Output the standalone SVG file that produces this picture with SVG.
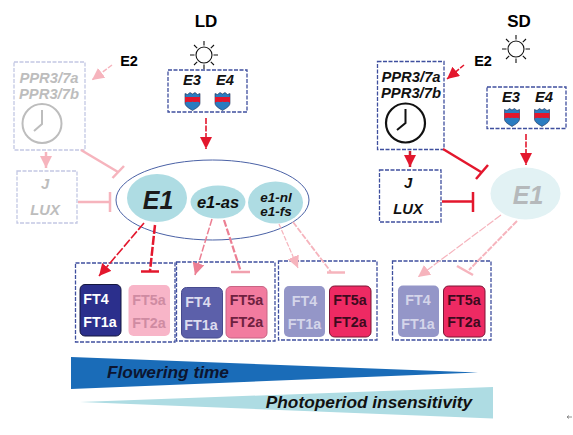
<svg xmlns="http://www.w3.org/2000/svg" width="573" height="435" viewBox="0 0 573 435">
<style>
text{font-family:"Liberation Sans",Arial,sans-serif;text-anchor:middle}
.b{font-weight:bold}
.i{font-style:italic}
.m{font-weight:bold;font-style:italic;font-size:14.800px}
.box{fill:#fff;stroke:#3f4f9e;stroke-width:1.300;stroke-dasharray:4 1.500}
.fade{stroke:#c3c8e4}
.t{font-weight:bold;font-size:14.300px}
.r{stroke:#e3172d;fill:none}
.p{stroke:#f6b4bd;fill:none}
.shield{stroke:#1d2a50;stroke-width:.6}
</style>
<defs>
<marker id="ar" markerUnits="userSpaceOnUse" markerWidth="14" markerHeight="14" refX="12" refY="6" orient="auto"><path d="M0 0L12 6L0 12Z" fill="#e3172d"/></marker>
<marker id="ap" markerUnits="userSpaceOnUse" markerWidth="14" markerHeight="14" refX="12" refY="6" orient="auto"><path d="M0 0L12 6L0 12Z" fill="#f6b4bd"/></marker>
<marker id="am" markerUnits="userSpaceOnUse" markerWidth="14" markerHeight="14" refX="12" refY="6" orient="auto"><path d="M0 0L12 6L0 12Z" fill="#ec7f93"/></marker>
<g id="shield"><path d="M-7.500-7.500l2.500 1L-2.500-8.500 0-7l2.500-1.500L5-6.500l2.500-1V2C7.500 5.500 3 7.500 0 9.500-3 7.500-7.500 5.500-7.500 2Z" fill="#2a7cc0" class="shield"/><path d="M-7.500-4H7.500V1.500C4 -.5 2 2 0 .5-2 2-4 -.5-7.500 1.500Z" fill="#e3172d"/></g>
<g id="sun" fill="none" stroke="#111" stroke-width="1.100"><circle r="8"/><path d="M0-14V-9.500M0 9.500V14M-14 0H-9.500M9.500 0H14M-10-10L-6.800-6.800M10-10L6.800-6.800M-10 10L-6.800 6.800M10 10L6.800 6.800"/></g>
</defs>

<g id="labels">
<text x="206" y="27" font-size="17" class="b">LD</text>
<text x="519" y="27" font-size="17" class="b">SD</text>
<text x="129" y="66" font-size="14.500" class="b">E2</text>
<text x="483" y="66" font-size="14.500" class="b">E2</text>
<use href="#sun" x="204" y="55"/>
<use href="#sun" x="516" y="49"/>
</g>

<g id="ld-ppr">
<rect x="14" y="62" width="71" height="88" class="box fade"/>
<text x="49" y="83" class="m" fill="#bdbdbd">PPR3/7a</text>
<text x="49" y="99" class="m" fill="#bdbdbd">PPR3/7b</text>
<circle cx="42" cy="123.500" r="19.500" fill="none" stroke="#bdbdbd" stroke-width="2"/>
<path d="M42 110V124L34 131" fill="none" stroke="#bdbdbd" stroke-width="2"/>
</g>
<g id="ld-jlux">
<rect x="17" y="171" width="60" height="52" class="box fade"/>
<text x="45" y="189" class="m" fill="#bdbdbd">J</text>
<text x="45" y="215" class="m" fill="#bdbdbd">LUX</text>
</g>
<g id="ld-e3e4">
<rect x="168" y="70" width="79" height="42" class="box"/>
<text x="192" y="85" class="m" fill="#111">E3</text>
<text x="225" y="85" class="m" fill="#111">E4</text>
<use href="#shield" x="192.500" y="101"/>
<use href="#shield" x="222.500" y="101"/>
</g>
<g id="ld-e1">
<ellipse cx="212.500" cy="200" rx="96.500" ry="40" fill="#fff" stroke="#4b62a6" stroke-width="1"/>
<ellipse cx="157" cy="198" rx="30" ry="24" fill="#aedce3"/>
<text x="158" y="209" font-size="25" class="b i" fill="#1a1a1a">E1</text>
<ellipse cx="218" cy="202" rx="27.500" ry="16.500" fill="#aedce3"/>
<text x="218" y="208" font-size="16.500" class="b i" fill="#111">e1-as</text>
<ellipse cx="275.500" cy="202.500" rx="27.500" ry="21" fill="#aedce3"/>
<text x="276" y="202" font-size="13.500" class="b i" fill="#111">e1-nl</text>
<text x="276" y="216" font-size="13.500" class="b i" fill="#111">e1-fs</text>
</g>

<g id="sd-ppr">
<rect x="377.500" y="61.500" width="66.500" height="88" class="box"/>
<text x="411" y="82" class="m" fill="#111">PPR3/7a</text>
<text x="411" y="98" class="m" fill="#111">PPR3/7b</text>
<circle cx="405.500" cy="123" r="19.500" fill="none" stroke="#111" stroke-width="2.200"/>
<path d="M405.500 109V123L397 130" fill="none" stroke="#111" stroke-width="2"/>
</g>
<g id="sd-jlux">
<rect x="379.500" y="170" width="61.500" height="52" class="box"/>
<text x="408" y="188" class="m" fill="#111">J</text>
<text x="408" y="214" class="m" fill="#111">LUX</text>
</g>
<g id="sd-e3e4">
<rect x="487" y="87" width="79" height="41.500" class="box"/>
<text x="511" y="102" class="m" fill="#111">E3</text>
<text x="544" y="102" class="m" fill="#111">E4</text>
<use href="#shield" x="512" y="117"/>
<use href="#shield" x="542" y="117"/>
</g>
<g id="sd-e1">
<ellipse cx="525.500" cy="193.500" rx="35" ry="26" fill="#e2f2f4"/>
<text x="528" y="204" font-size="25" class="b i" fill="#b5b9bb">E1</text>
</g>

<g id="ft-group-1">
<rect x="75.500" y="263" width="99.500" height="79" class="box"/>
<rect x="80" y="284.500" width="41" height="51.500" rx="5" fill="#2b2f8c" stroke="#14173f"/>
<text x="96" y="304" class="t" fill="#fff">FT4</text>
<text x="100" y="327" class="t" fill="#fff">FT1a</text>
<rect x="128.500" y="285" width="41.500" height="51" rx="5" fill="#f8b5c8"/>
<text x="149" y="305" class="t" fill="#cf8ba2">FT5a</text>
<text x="149" y="328" class="t" fill="#cf8ba2">FT2a</text>
</g>
<g id="ft-group-2">
<rect x="176.500" y="262" width="98.500" height="79" class="box"/>
<rect x="181.500" y="287.500" width="41" height="50.500" rx="5" fill="#5c60aa" stroke="#474b8e"/>
<text x="198" y="307" class="t" fill="#dcdcef">FT4</text>
<text x="201" y="330" class="t" fill="#dcdcef">FT1a</text>
<rect x="226" y="286.500" width="41" height="51.500" rx="5" fill="#f27b9f" stroke="#c96484"/>
<text x="246.500" y="305" class="t" fill="#6e2140">FT5a</text>
<text x="246.500" y="327" class="t" fill="#6e2140">FT2a</text>
</g>
<g id="ft-group-3">
<rect x="278.500" y="261" width="98.500" height="79" class="box"/>
<rect x="284" y="286" width="41" height="51" rx="5" fill="#9496c8"/>
<text x="304.500" y="306" class="t" fill="#d4d5ea">FT4</text>
<text x="304.500" y="329" class="t" fill="#d4d5ea">FT1a</text>
<rect x="329.500" y="286" width="41.500" height="51" rx="5" fill="#ee2a63" stroke="#7a1535"/>
<text x="350" y="305" class="t" fill="#3d0a1e">FT5a</text>
<text x="350" y="327" class="t" fill="#3d0a1e">FT2a</text>
</g>
<g id="ft-group-4">
<rect x="392.500" y="261" width="98.500" height="79" class="box"/>
<rect x="398" y="285.500" width="41" height="51.500" rx="5" fill="#9496c8"/>
<text x="418" y="305" class="t" fill="#d4d5ea">FT4</text>
<text x="418" y="329" class="t" fill="#d4d5ea">FT1a</text>
<rect x="443.500" y="286" width="41.500" height="51" rx="5" fill="#ee2a63" stroke="#7a1535"/>
<text x="464" y="305" class="t" fill="#3d0a1e">FT5a</text>
<text x="464" y="327" class="t" fill="#3d0a1e">FT2a</text>
</g>

<g id="flowering-time">
<path d="M71 357L478 372.500L71 389Z" fill="#1a6cb8"/>
<text x="168" y="378" font-size="17.300" class="b i" fill="#0c1530">Flowering time</text>
</g>
<g id="photoperiod-insensitivity">
<path d="M80 402L493 387V418.500Z" fill="#aedce3"/>
<text x="369" y="408" font-size="17.300" class="b i" fill="#111">Photoperiod insensitivity</text>
</g>
<g id="stray-mark"><path d="M567 417H572M567 417l2-1.500M567 417l2 1.500" stroke="#777" fill="none" stroke-width=".8"/></g>

<g id="connectors">
<path d="M112 65L92 80" class="p" stroke-width="1.500" stroke-dasharray="5 1.500" marker-end="url(#ap)"/>
<path d="M46 152V168" stroke="#f6b4bd" stroke-width="2.500" marker-end="url(#ap)"/>
<path d="M81 150L118 172M112.500 178L124 166" class="p" stroke-width="2.500"/>
<path d="M78 202H110M110 192V212" class="p" stroke-width="2.500"/>
<path d="M206 118V149" class="r" stroke-width="1.600" stroke-dasharray="6 1.500" marker-end="url(#ar)"/>
<path d="M144 223L99 276" class="r" stroke-width="1.600" stroke-dasharray="9 2" marker-end="url(#ar)"/>
<path d="M155 225L150 271" class="r" stroke-width="2.500" stroke-dasharray="9 2"/>
<path d="M141 271.500H159" class="r" stroke-width="2.500"/>
<path d="M212 219L195 275" stroke="#ec7f93" stroke-width="1.500" fill="none" stroke-dasharray="7 2" marker-end="url(#am)"/>
<path d="M224 220L241 272" stroke="#ec7f93" stroke-width="2.200" fill="none" stroke-dasharray="7 2"/>
<path d="M231 272H250" stroke="#f1a0ae" stroke-width="2.500"/>
<path d="M279 224L298 268" class="p" stroke-width="1.200" stroke-dasharray="5 1.500" marker-end="url(#ap)"/>
<path d="M293 222L331 272" class="p" stroke-width="1.800" stroke-dasharray="6 1.500"/>
<path d="M327 272.500H345" class="p" stroke-width="2.500"/>
<path d="M464 65L447 79" class="r" stroke-width="1.500" stroke-dasharray="5 1.500" marker-end="url(#ar)"/>
<path d="M410 151V167" stroke="#c9202f" stroke-width="2.500" marker-end="url(#ar)"/>
<path d="M443 149L481 172M476 179L488 165" class="r" stroke-width="2.500"/>
<path d="M442 201.500H473M473 192V212" class="r" stroke-width="2.500"/>
<path d="M526 134V165" class="r" stroke-width="1.600" stroke-dasharray="6 1.500" marker-end="url(#ar)"/>
<path d="M501 215L418 277" class="p" stroke-width="1.200" stroke-dasharray="8 1.500" marker-end="url(#ap)"/>
<path d="M517 221L469 270" class="p" stroke-width="2" stroke-dasharray="6 1.200"/>
<path d="M457 266L473 275" class="p" stroke-width="2.500"/>
</g>
</svg>
